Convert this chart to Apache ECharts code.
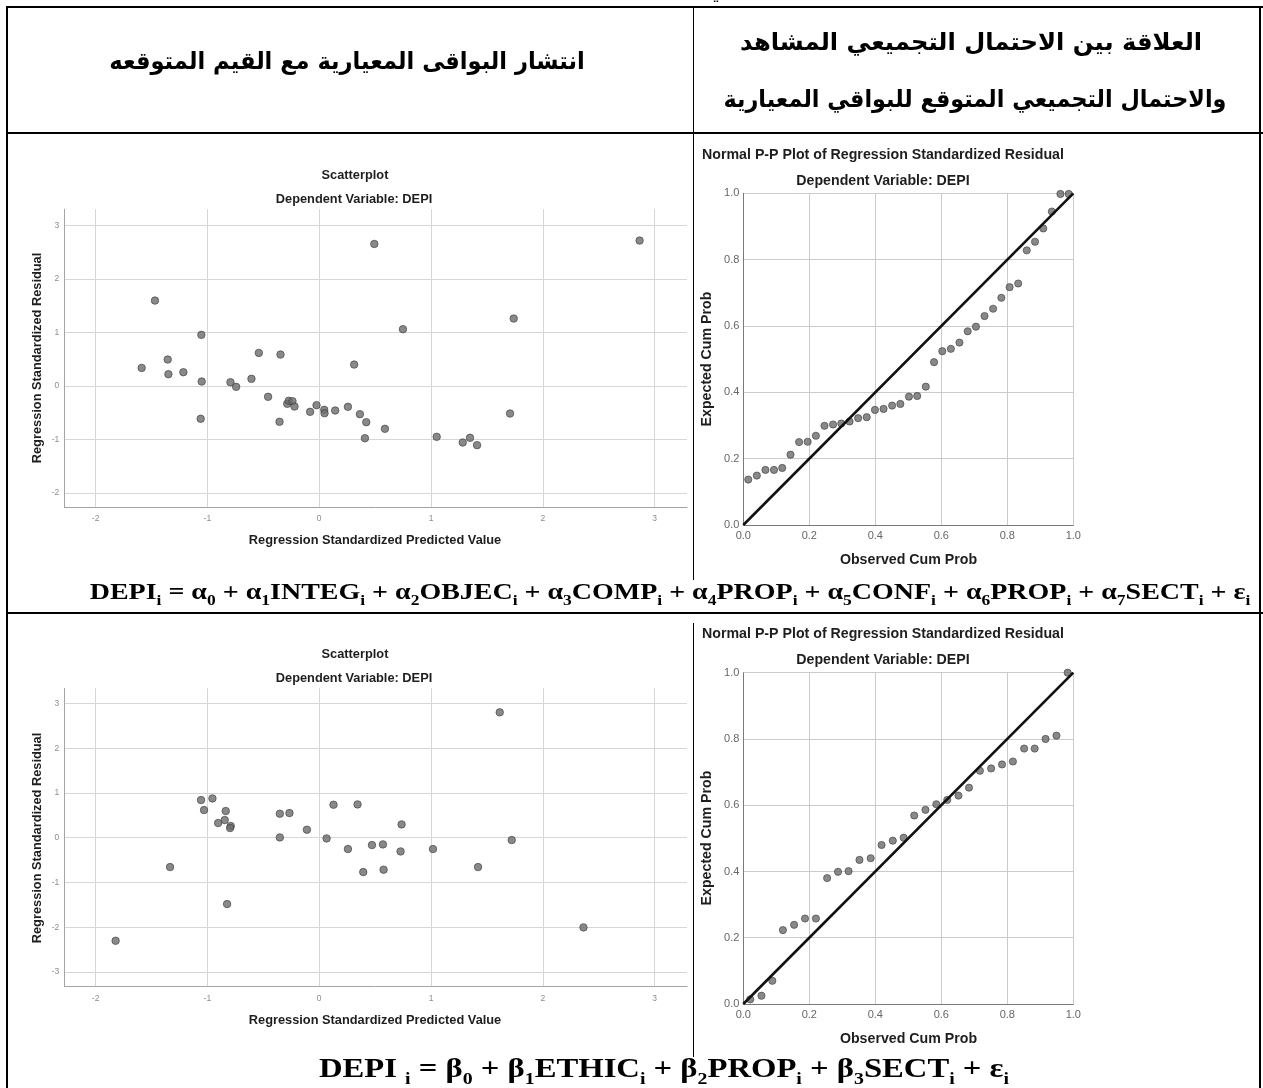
<!DOCTYPE html>
<html>
<head>
<meta charset="utf-8">
<script src="https://cdn.jsdelivr.net/npm/echarts@6/dist/echarts.min.js"></script>
<style>
  html, body { margin: 0; padding: 0; background: #ffffff; }
  #chart { width: 1263px; height: 1088px; }
</style>
</head>
<body>
<div id="chart"></div>
<script>
// ---- Model 1: residuals vs predicted values ----
const scatter1Pred = [-1.469, -1.588, -1.355, -1.349, -1.215, -1.054, -1.051, -1.060, -0.794, -0.743,
  -0.606, -0.540, -0.346, -0.457, -0.286, -0.272, -0.239, -0.221, -0.355, -0.081,
  -0.024, 0.045, 0.048, 0.143, 0.257, 0.313, 0.364, 0.493, 0.749, 0.421,
  0.409, 0.588, 1.051, 1.284, 1.349, 1.412, 1.707, 1.740, 2.866];
const scatter1Resid = [1.594, 0.336, 0.492, 0.218, 0.255, 0.953, 0.081, -0.616, 0.068, -0.019,
  0.131, 0.616, 0.585, -0.205, -0.336, -0.280, -0.286, -0.386, -0.672, -0.486,
  -0.361, -0.448, -0.511, -0.461, -0.392, 0.398, -0.529, 2.653, 1.059, -0.679,
  -0.978, -0.803, -0.953, -1.059, -0.971, -1.108, -0.517, 1.258, 2.715];

// ---- Model 1: normal P-P plot ----
const pp1Observed = [0.015, 0.041, 0.067, 0.093, 0.118, 0.143, 0.169, 0.195, 0.220, 0.246,
  0.272, 0.297, 0.322, 0.348, 0.374, 0.399, 0.425, 0.451, 0.476, 0.502,
  0.527, 0.553, 0.578, 0.603, 0.629, 0.655, 0.680, 0.705, 0.731, 0.757,
  0.782, 0.807, 0.833, 0.859, 0.884, 0.909, 0.935, 0.961, 0.986];
const pp1Expected = [0.137, 0.149, 0.166, 0.166, 0.172, 0.212, 0.250, 0.251, 0.269, 0.299,
  0.303, 0.306, 0.312, 0.322, 0.325, 0.347, 0.350, 0.360, 0.365, 0.387,
  0.389, 0.417, 0.491, 0.524, 0.531, 0.550, 0.584, 0.598, 0.630, 0.652,
  0.685, 0.717, 0.728, 0.828, 0.854, 0.894, 0.945, 0.998, 0.998];

// ---- Model 2: residuals vs predicted values ----
const scatter2Pred = [-1.821, -1.334, -1.057, -1.030, -0.955, -0.904, -0.845, -0.836, -0.791, -0.797,
  -0.824, -0.352, -0.266, -0.352, -0.110, 0.066, 0.128, 0.257, 0.343, 1.615,
  0.737, 0.472, 0.570, 0.728, 1.018, 0.394, 0.576, 1.421, 1.722, 2.364];
const scatter2Resid = [-2.303, -0.656, 0.842, 0.618, 0.879, 0.328, 0.395, 0.596, 0.261, 0.216,
  -1.483, 0.537, 0.551, 0.007, 0.179, -0.015, 0.738, -0.253, 0.745, 2.802,
  0.298, -0.164, -0.149, -0.306, -0.253, -0.768, -0.715, -0.656, -0.052, -2.004];

// ---- Model 2: normal P-P plot ----
const pp2Observed = [0.021, 0.055, 0.088, 0.120, 0.154, 0.187, 0.220, 0.254, 0.287, 0.319,
  0.352, 0.386, 0.419, 0.453, 0.486, 0.518, 0.552, 0.585, 0.618, 0.652,
  0.684, 0.717, 0.751, 0.784, 0.817, 0.851, 0.883, 0.916, 0.949, 0.983];
const pp2Expected = [0.014, 0.025, 0.070, 0.223, 0.239, 0.258, 0.258, 0.380, 0.399, 0.401,
  0.435, 0.440, 0.480, 0.493, 0.502, 0.569, 0.586, 0.603, 0.616, 0.629,
  0.653, 0.704, 0.711, 0.723, 0.732, 0.771, 0.771, 0.800, 0.810, 1.000];

// reference diagonal of the P-P plots
const diagonal = [0, 1];

// axis ranges
const scatterPredRange = [-2.28, 3.29];
const scatter1ResidRange = [-2.27, 3.30];
const scatter2ResidRange = [-3.33, 3.34];
const probRange = [0, 1];

// text of the table
const headerLeft = 'انتشار البواقى المعيارية مع القيم المتوقعه';
const headerRight1 = 'العلاقة بين الاحتمال التجميعي المشاهد';
const headerRight2 = 'والاحتمال التجميعي المتوقع للبواقي المعيارية';
const scatterTitle = 'Scatterplot';
const ppTitle = 'Normal P-P Plot of Regression Standardized Residual';
const depTitle = 'Dependent Variable: DEPI';
const scatterXName = 'Regression Standardized Predicted Value';
const scatterYName = 'Regression Standardized Residual';
const ppXName = 'Observed Cum Prob';
const ppYName = 'Expected Cum Prob';
// equations: [normal text, subscript]
const formulaAlpha = [['DEPI', 'i'], [' = α', '0'], [' + α', '1'], ['INTEG', 'i'], [' + α', '2'], ['OBJEC', 'i'],
  [' + α', '3'], ['COMP', 'i'], [' + α', '4'], ['PROP', 'i'], [' + α', '5'], ['CONF', 'i'],
  [' + α', '6'], ['PROP', 'i'], [' + α', '7'], ['SECT', 'i'], [' + ε', 'i']];
const formulaBeta = [['DEPI ', 'i'], [' = β', '0'], [' + β', '1'], ['ETHIC', 'i'], [' + β', '2'], ['PROP', 'i'],
  [' + β', '3'], ['SECT', 'i'], [' + ε', 'i']];

const zip = (a, b) => a.map((v, i) => [v, b[i]]);
const richFormula = parts => parts.map(p => '{m|' + p[0] + '}{s|' + p[1] + '}').join('');

const SANS = 'Liberation Sans, Arial, sans-serif';
const SERIF = 'Liberation Serif, Times New Roman, serif';
const ARABIC = 'DejaVu Sans, sans-serif';
const pointStyle = { color: '#6b6b6b', borderColor: '#3c3c3c', borderWidth: 0.8 };

function scatterAxes(grid, yRange) {
  const intLabel = v => (Math.abs(v - Math.round(v)) < 1e-6 ? String(Math.round(v)) : '');
  const common = {
    type: 'value', gridIndex: grid, minInterval: 1, maxInterval: 1,
    axisLine: { show: true, onZero: false, lineStyle: { color: '#a4a4a4', width: 1 } },
    axisTick: { show: false },
    splitLine: { show: true, showMinLine: false, showMaxLine: false, lineStyle: { color: '#d6d6d6', width: 1 } },
    axisLabel: { formatter: intLabel, color: '#8c8c8c', fontSize: 8.5, fontFamily: SANS }
  };
  return {
    x: Object.assign({}, common, { min: scatterPredRange[0], max: scatterPredRange[1],
      axisLabel: Object.assign({}, common.axisLabel, { margin: 7 }) }),
    y: Object.assign({}, common, { min: yRange[0], max: yRange[1],
      axisLabel: Object.assign({}, common.axisLabel, { margin: 5 }) })
  };
}
function ppAxes(grid) {
  const common = {
    type: 'value', gridIndex: grid, min: probRange[0], max: probRange[1], interval: 0.2,
    axisLine: { show: true, onZero: false, lineStyle: { color: '#7a7a7a', width: 1 } },
    axisTick: { show: false },
    splitLine: { show: true, lineStyle: { color: '#cbcbcb', width: 1 } },
    axisLabel: { formatter: v => v.toFixed(1), color: '#666666', fontSize: 11, fontFamily: SANS }
  };
  return {
    x: Object.assign({}, common, { axisLabel: Object.assign({}, common.axisLabel, { margin: 5 }) }),
    y: Object.assign({}, common, { axisLabel: Object.assign({}, common.axisLabel, { margin: 4 }) })
  };
}

const a0 = scatterAxes(0, scatter1ResidRange);
const a1 = ppAxes(1);
const a2 = scatterAxes(2, scatter2ResidRange);
const a3 = ppAxes(3);

function txt(x, y, text, size, el) {
  return Object.assign({
    type: 'text', x: x, y: y, silent: true,
    style: { text: text, fill: '#1e1e1e', font: 'bold ' + size + 'px ' + SANS,
      align: 'center', verticalAlign: 'middle' }
  }, el || {});
}
function arabic(x, y, text, size, sx) {
  return {
    type: 'text', x: x, y: y, scaleX: sx, silent: true,
    style: { text: text, font: 'bold ' + size + 'px ' + ARABIC, fill: '#000', align: 'center', verticalAlign: 'middle' }
  };
}
function rect(x, y, w, h) {
  return { type: 'rect', silent: true, shape: { x: x, y: y, width: w, height: h }, style: { fill: '#000' } };
}
function formulaText(x, y, parts, size, sx) {
  return {
    type: 'text', x: x, y: y, scaleX: sx, silent: true,
    style: {
      text: richFormula(parts), align: 'center', verticalAlign: 'middle',
      rich: {
        m: { fontFamily: SERIF, fontWeight: 'bold', fontSize: size, fill: '#000',
             lineHeight: Math.round(size * 1.3), verticalAlign: 'middle' },
        s: { fontFamily: SERIF, fontWeight: 'bold', fontSize: Math.round(size * 0.62), fill: '#000',
             lineHeight: Math.round(size * 0.72), verticalAlign: 'bottom' }
      }
    }
  };
}

const graphics = [
  // table rules
  rect(6, 6, 1257, 2),
  rect(6, 6, 2, 1082),
  rect(1259, 6, 2, 1082),
  rect(6, 132, 1257, 2),
  rect(6, 612, 1257, 2),
  rect(693, 8, 1, 572),
  rect(693, 623, 1, 434),
  // header
  { type: 'text', x: 717, y: -9, silent: true, style: { text: 'ي', font: '22px ' + ARABIC, fill: '#000', align: 'center', verticalAlign: 'middle' } },
  arabic(347, 63, headerLeft, 24, 0.94),
  arabic(971, 44, headerRight1, 24, 1.01),
  arabic(975, 101, headerRight2, 24, 0.93),
  // model 1 scatter
  txt(355, 175, scatterTitle, 12.8),
  txt(354, 199, depTitle, 12.8),
  txt(375, 540.5, scatterXName, 12.8),
  txt(37, 358, scatterYName, 12.8, { rotation: Math.PI / 2 }),
  // model 1 P-P
  txt(883, 155, ppTitle, 14.2),
  txt(883, 181.5, depTitle, 14.2),
  txt(908.5, 560.5, ppXName, 14.2),
  txt(707, 359, ppYName, 14.2, { rotation: Math.PI / 2 }),
  // equation 1
  formulaText(670, 593, formulaAlpha, 24, 1.166),
  // model 2 scatter
  txt(355, 654, scatterTitle, 12.8),
  txt(354, 678, depTitle, 12.8),
  txt(375, 1020, scatterXName, 12.8),
  txt(37, 838, scatterYName, 12.8, { rotation: Math.PI / 2 }),
  // model 2 P-P
  txt(883, 634, ppTitle, 14.2),
  txt(883, 660.5, depTitle, 14.2),
  txt(908.5, 1039.5, ppXName, 14.2),
  txt(707, 838, ppYName, 14.2, { rotation: Math.PI / 2 }),
  // equation 2
  formulaText(664, 1070, formulaBeta, 28, 1.166)
];

const chart = echarts.init(document.getElementById('chart'), null, { renderer: 'canvas' });
chart.setOption({
  animation: false,
  backgroundColor: '#ffffff',
  grid: [
    { left: 64.3, top: 209.3, width: 622.7, height: 298, outerBoundsMode: 'none' },
    { left: 743.3, top: 193.3, width: 330, height: 331.7, outerBoundsMode: 'none' },
    { left: 64.3, top: 688.3, width: 622.7, height: 298.4, outerBoundsMode: 'none' },
    { left: 743.3, top: 672.7, width: 330, height: 331.3, outerBoundsMode: 'none' }
  ],
  xAxis: [a0.x, a1.x, a2.x, a3.x],
  yAxis: [a0.y, a1.y, a2.y, a3.y],
  series: [
    { type: 'scatter', xAxisIndex: 0, yAxisIndex: 0, data: zip(scatter1Pred, scatter1Resid), symbolSize: 7.5, itemStyle: pointStyle, z: 3 },
    { type: 'scatter', xAxisIndex: 1, yAxisIndex: 1, data: zip(pp1Observed, pp1Expected), symbolSize: 7.2, itemStyle: pointStyle, z: 3 },
    { type: 'line', xAxisIndex: 1, yAxisIndex: 1, data: zip(diagonal, diagonal), symbol: 'none', lineStyle: { color: '#111111', width: 2.6 }, z: 4 },
    { type: 'scatter', xAxisIndex: 2, yAxisIndex: 2, data: zip(scatter2Pred, scatter2Resid), symbolSize: 7.5, itemStyle: pointStyle, z: 3 },
    { type: 'scatter', xAxisIndex: 3, yAxisIndex: 3, data: zip(pp2Observed, pp2Expected), symbolSize: 7.2, itemStyle: pointStyle, z: 3 },
    { type: 'line', xAxisIndex: 3, yAxisIndex: 3, data: zip(diagonal, diagonal), symbol: 'none', lineStyle: { color: '#111111', width: 2.6 }, z: 4 }
  ],
  graphic: graphics
});
</script>
</body>
</html>
